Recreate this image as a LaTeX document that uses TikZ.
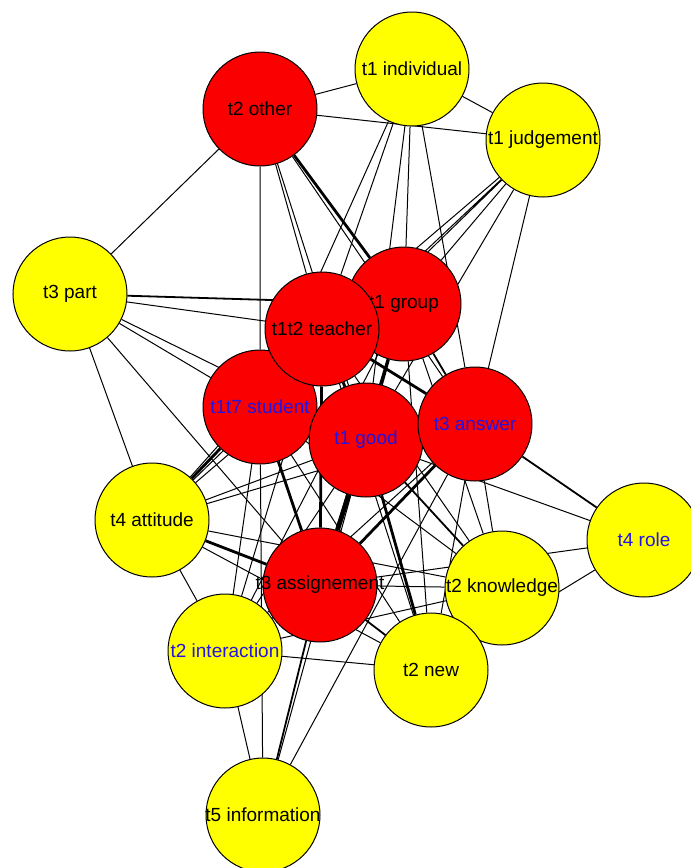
\documentclass[tikz,border=0pt]{standalone}
\usepackage{fontspec}
\usetikzlibrary{backgrounds}
\newfontfamily\termfont{Liberation Sans}
\definecolor{termred}{RGB}{250,0,0}
\definecolor{termyellow}{RGB}{255,255,0}
\definecolor{termblue}{RGB}{35,20,225}
\newcommand{\tm}[1]{\makebox[0pt]{#1}}

\begin{document}
\begin{tikzpicture}[
  x=1pt, y=-1pt,
  term/.style={circle, draw=black, line width=1pt, minimum size=114pt, inner sep=0pt,
               font=\termfont\fontsize{19}{22}\selectfont},
  redterm/.style={term, fill=termred},
  yellowterm/.style={term, fill=termyellow},
  bluetext/.style={text=termblue},
  edge/.style={draw=black, line width=1pt},
  midedge/.style={draw=black, line width=1.8pt},
  thickedge/.style={draw=black, line width=2.8pt},
  heavyedge/.style={draw=black, line width=4.8pt},
]
\useasboundingbox (0,0) rectangle (691,868);

% Terms (drawing order keeps the overlaps of the reference)
\node[redterm]    (oth) at (260,109) {\tm{t2 other}};
\node[yellowterm] (ind) at (412,69)  {\tm{t1 individual}};
\node[yellowterm] (jud) at (543,140) {\tm{t1 judgement}};
\node[yellowterm] (par) at (70,294)  {\tm{t3 part}};
\node[redterm]    (gro) at (404,304) {\tm{t1 group}};
\node[redterm, bluetext] (stu) at (260,407) {\tm{t1t7 student}};
\node[redterm]    (tea) at (322,329) {\tm{t1t2 teacher}};
\node[redterm, bluetext] (goo) at (366,440) {\tm{t1 good}};
\node[redterm, bluetext] (ans) at (475,424) {\tm{t3 answer}};
\node[yellowterm] (att) at (152,520) {\tm{t4 attitude}};
\node[redterm]    (asg) at (320,585) {\tm{t3 assignement}};
\node[yellowterm, bluetext] (int) at (225,651) {\tm{t2 interaction}};
\node[yellowterm] (kno) at (502,588) {\tm{t2 knowledge}};
\node[yellowterm] (new) at (431,670) {\tm{t2 new}};
\node[yellowterm, bluetext] (rol) at (644,540) {\tm{t4 role}};
\node[yellowterm] (inf) at (263,815) {\tm{t5 information}};

% Links
\begin{scope}[on background layer]
\draw[edge] (oth) -- (ind) (oth) -- (jud) (oth) -- (par) (oth) -- (stu)
            (oth) -- (goo) (oth) -- (ans) (oth) -- (tea);
\draw[edge] (ind) -- (jud) (ind) -- (stu) (ind) -- (tea) (ind) -- (goo)
            (ind) -- (gro) (ind) -- (ans);
\draw[edge] (jud) -- (tea) (jud) -- (stu) (jud) -- (gro) (jud) -- (goo)
            (jud) -- (ans) (jud) -- (att);
\draw[edge] (par) -- (tea) (par) -- (goo) (par) -- (stu) (par) -- (asg)
            (par) -- (att);
\draw[edge] (inf) -- (int) (inf) -- (stu) (inf) -- (goo) (inf) -- (ans);
\draw[edge] (rol) -- (goo) (rol) -- (asg) (rol) -- (new);
\draw[edge] (att) -- (int) (att) -- (kno) (att) -- (new) (att) -- (goo)
            (att) -- (ans) (att) -- (gro) (att) -- (tea);
\draw[edge] (int) -- (stu) (int) -- (tea) (int) -- (goo) (int) -- (gro)
            (int) -- (ans) (int) -- (kno) (int) -- (new);
\draw[edge] (new) -- (tea) (new) -- (stu) (new) -- (ans) (new) -- (gro)
            (new) -- (kno);
\draw[edge] (kno) -- (ans) (kno) -- (gro) (kno) -- (tea) (kno) -- (stu)
            (kno) -- (asg);
\draw[midedge] (par) -- (gro) (inf) -- (asg) (rol) -- (ans) (new) -- (asg)
               (int) -- (asg) (tea) -- (stu) (gro) -- (stu) (gro) -- (ans)
               (gro) -- (asg) (stu) -- (goo) (stu) -- (ans) (goo) -- (ans)
               (goo) -- (kno);
\draw[thickedge] (tea) -- (gro) (tea) -- (goo) (tea) -- (ans) (tea) -- (asg)
                 (gro) -- (goo) (stu) -- (asg) (ans) -- (asg) (goo) -- (new)
                 (att) -- (stu) (att) -- (asg) (oth) -- (gro);
\draw[heavyedge] (goo) -- (asg);
\end{scope}

\end{tikzpicture}
\end{document}
